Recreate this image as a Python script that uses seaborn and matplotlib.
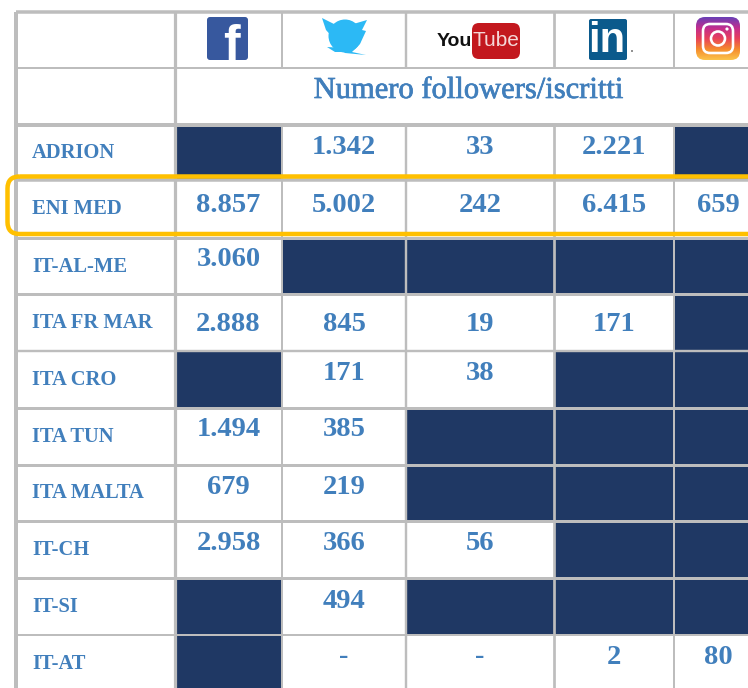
import numpy as np
import pandas as pd
import seaborn as sns
import matplotlib
matplotlib.use("Agg")
import matplotlib.pyplot as plt
import matplotlib.patheffects as pe
from matplotlib.colors import ListedColormap
from matplotlib.patches import FancyBboxPatch, Circle, Ellipse, Polygon
from matplotlib.ticker import NullLocator

# ---------- data ----------
programmes = ["ADRION", "ENI MED", "IT-AL-ME", "ITA FR MAR", "ITA CRO",
              "ITA TUN", "ITA MALTA", "IT-CH", "IT-SI", "IT-AT"]
facebook = [None, 8857, 3060, 2888, None, 1494, 679, 2958, None, None]
twitter = [1342, 5002, None, 845, 171, 385, 219, 366, 494, "-"]
youtube = [33, 242, None, 19, 38, None, None, 56, None, "-"]
linkedin = [2221, 6415, None, 171, None, None, None, None, None, 2]
instagram = [None, 659, None, None, None, None, None, None, None, 80]
subtitle = "Numero followers/iscritti"
columns = [facebook, twitter, youtube, linkedin, instagram]

# ---------- layout (pixels) ----------
W, H = 748, 688
col_px = [16, 175, 282, 406, 554, 674, 762]
row_px = [12, 68, 125, 180, 238, 294, 351, 408, 465, 521, 578, 635, 692]
val_dy = [-5.5, -4, -6, 2, -5.5, -6.5, -6, -6.5, -4.5, -6.5]
NAVY, GRID, TXT, ORANGE = "#1F3864", "#BDBDBD", "#417FBC", "#FFC000"
PX = 0.72

def scale_funcs(px):
    px = np.asarray(px, float)
    idx = np.arange(-1, len(px) + 1, dtype=float)
    tbl = np.r_[px[0] - 1000, px, px[-1] + 1000]
    return (lambda v: np.interp(v, idx, tbl), lambda p: np.interp(p, tbl, idx))

# ---------- body as a heatmap: 1 = programme not on that platform ----------
n = len(programmes)
matrix = np.zeros((n + 2, 6))
for c, col in enumerate(columns):
    for r, v in enumerate(col):
        matrix[r + 2, c + 1] = 1 if v is None else 0
df = pd.DataFrame(matrix)

sns.set_theme(style="white")
plt.rcParams["font.family"] = ["Liberation Serif", "DejaVu Serif"]
fig = plt.figure(figsize=(W / 100, H / 100), dpi=100, facecolor="white")
ax = fig.add_axes([0, 0, 1, 1])
sns.heatmap(df, ax=ax, cmap=ListedColormap(["white", NAVY]), vmin=0, vmax=1,
            cbar=False, xticklabels=False, yticklabels=False)
fx, ix = scale_funcs(col_px)
fy, iy = scale_funcs(row_px)
ax.set_xscale("function", functions=(fx, ix))
ax.set_yscale("function", functions=(fy, iy))
ax.set_xlim(ix(0.0), ix(float(W)))
ax.set_ylim(iy(float(H)), iy(0.0))
for a in (ax.xaxis, ax.yaxis):
    a.set_major_locator(NullLocator())
    a.set_minor_locator(NullLocator())
for s in ax.spines.values():
    s.set_visible(False)

# ---------- grid ----------
thick_rows = {0: 3.5, 1: 2, 2: 4, 3: 3.5, 4: 3, 5: 3, 6: 2.4, 7: 3, 8: 3, 9: 3, 10: 3, 11: 2}
for r, lw in thick_rows.items():
    ax.hlines(r, 0, 6, color=GRID, lw=lw * PX, zorder=3)
ax.vlines(0, 0, n + 2, color=GRID, lw=4 * PX, zorder=3)
ax.vlines(1, 0, n + 2, color=GRID, lw=3.2 * PX, zorder=3)
for c, lw in ((2, 2), (3, 2.4), (4, 2.7), (5, 2)):
    ax.vlines(c, 0, 1, color=GRID, lw=lw * PX, zorder=3)
    ax.vlines(c, 2, n + 2, color=GRID, lw=lw * PX, zorder=3)

# ---------- text ----------
ax.annotate(subtitle, (3.5, 1.5), xytext=(-12 * PX, 6 * PX), textcoords="offset points",
            ha="center", va="center", color=TXT, fontsize=22, zorder=4,
            path_effects=[pe.withStroke(linewidth=0.5, foreground=TXT)])
for r, name in enumerate(programmes):
    ax.annotate(name, (0, r + 2.5), xytext=(16 * PX, -0.5 * PX), textcoords="offset points",
                ha="left", va="center", color=TXT, fontsize=14.8, fontweight="bold", zorder=4)

def fmt(v):
    return v if isinstance(v, str) else f"{v:,}".replace(",", ".")

for c, col in enumerate(columns):
    for r, v in enumerate(col):
        if v is None:
            continue
        ax.annotate(fmt(v), (c + 1.5, r + 2.5), xytext=(0, -val_dy[r] * PX), textcoords="offset points",
                    ha="center", va="center", color=TXT, fontsize=20.5, fontweight="bold", zorder=4)

# ---------- overlay in pixel coordinates: logos and highlight ----------
ov = fig.add_axes([0, 0, 1, 1], facecolor="none")
ov.axis("off")

def rbox(x0, y0, x1, y1, r, **kw):
    p = FancyBboxPatch((x0 + r, y0 + r), x1 - x0 - 2 * r, y1 - y0 - 2 * r,
                       boxstyle=f"round,pad={r},rounding_size={r}", **kw)
    ov.add_patch(p)
    return p

# Facebook
rbox(207, 17, 248, 60, 3, fc="#37589E", ec="none")
ov.text(231, 60, "f", color="white", fontsize=36, fontweight="bold",
        family="Liberation Sans", ha="center", va="baseline")

# Twitter
ov.add_patch(Ellipse((345, 36), 33, 33, fc="#2CB9F5", ec="none"))
ov.add_patch(Polygon([(322, 18), (342, 28), (345, 48), (335, 40), (326, 30)], fc="#2CB9F5", ec="none"))
ov.add_patch(Polygon([(350, 25), (367, 20), (362, 30), (366, 31), (360, 44), (352, 52), (366, 55),
                      (345, 53), (338, 46)], fc="#2CB9F5", ec="none"))
ov.add_patch(Polygon([(327, 47), (345, 48), (349, 52), (335, 52)], fc="#2CB9F5", ec="none"))

# YouTube
ov.text(454.5, 41, "You", color="#111111", fontsize=14, fontweight="bold", family="Liberation Sans",
        ha="center", va="center")
rbox(472, 23, 520, 59, 7, fc="#C3181E", ec="none")
ov.text(496, 41, "Tube", color="#F4D8D8", fontsize=15, family="Liberation Sans",
        ha="center", va="center")

# LinkedIn
rbox(589, 19, 627, 60, 2, fc="#0B5A8C", ec="none")
ov.text(607, 52, "in", color="white", fontsize=30, fontweight="bold", family="Liberation Sans",
        ha="center", va="baseline")
ov.add_patch(Circle((632, 51), 1, fc="#777777", ec="none"))

# Instagram
grad = np.linspace(0, 1, 64)[:, None]
cm = matplotlib.colors.LinearSegmentedColormap.from_list(
    "ig", ["#6A3FB5", "#C22D8F", "#E8405A", "#F58A2C", "#FBC34A"])
im = ov.imshow(grad, extent=(696, 740, 60, 17), cmap=cm, aspect="auto", zorder=2)
clip = rbox(696, 17, 740, 60, 9, fc="none", ec="none")
im.set_clip_path(clip)
rbox(703, 24, 733, 53, 7, fc="none", ec="white", lw=2.6 * PX, zorder=3)
ov.add_patch(Circle((718, 38.5), 7, fc="none", ec="white", lw=2.6 * PX, zorder=3))
ov.add_patch(Circle((727, 29), 1.6, fc="white", ec="none", zorder=3))

# Highlight
rbox(7.5, 176.5, 800, 234, 12, fc="none", ec=ORANGE, lw=4.5 * PX, zorder=5)

ov.set_xlim(0, W)
ov.set_ylim(H, 0)
fig.savefig("out.png", dpi=100)
